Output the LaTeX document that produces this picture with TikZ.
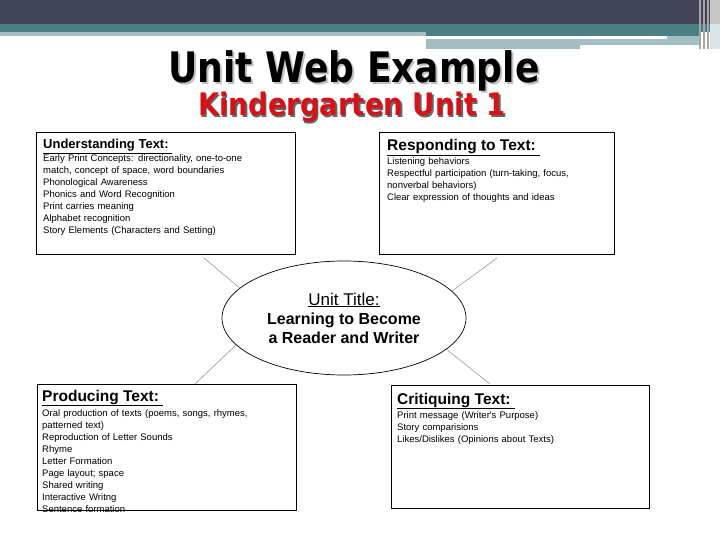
\documentclass[tikz,border=0pt]{standalone}
\usepackage{fontspec}
\setmainfont{Liberation Sans}
\newfontfamily\titlefont{DejaVu Sans}
\usepackage{tikz}
\usetikzlibrary{shapes}
\usetikzlibrary{positioning}

\definecolor{slatebar}{RGB}{65,68,88}
\definecolor{tealbar}{RGB}{74,128,132}
\definecolor{paleteal}{RGB}{162,190,194}
\definecolor{titlered}{RGB}{214,18,24}

\tikzset{
  topicbox/.style={draw=black,line width=1pt,anchor=north west,inner sep=0pt},
  headtext/.style={anchor=base west,inner sep=0pt,font=\fontsize{15.5}{18}\selectfont\bfseries},
  bodytext/.style={anchor=base west,inner sep=0pt,text width=240pt,align=left,font=\fontsize{9.5}{12}\selectfont},
  spoke/.style={draw=gray!80,line width=0.6pt},
  bigtitle/.style={inner sep=0pt,anchor=base,xscale=0.86,font=\titlefont\fontsize{42}{48}\selectfont\bfseries}
}

\begin{document}
\begin{tikzpicture}[x=1pt,y=-1pt]
        \useasboundingbox[fill=white] (0,0) rectangle (720,540);
        % the bars on top
        \fill[slatebar] (0,0) rectangle (720,24);
        \fill[tealbar] (0,24) rectangle (720,32);
        \fill[tealbar] (426,32) rectangle (700,36);
        \fill[paleteal] (0,32) rectangle (426,36);
        \fill[paleteal] (667,36) rectangle (700,39);
        \fill[paleteal] (426,39) rectangle (700,45);
        \fill[paleteal] (426,45) rectangle (580,49);
        \fill[gray!45] (710,0) rectangle (720,24);
        \fill[paleteal!40] (710,24) rectangle (720,49);
        \foreach \s in {700,704,708}
          \draw[gray!70,line width=1.2pt] (\s,0) -- (\s,49);

        %% titles, with a shadow
        \node[bigtitle,text=gray!50] at (356,85) {Unit Web Example};
        \node[bigtitle] (title) at (354,83) {Unit Web Example};
        \node[bigtitle,xscale=1.03,font=\titlefont\fontsize{31}{36}\selectfont\bfseries,text=black!60] at (353.5,117.5) {Kindergarten Unit 1};
        \node[bigtitle,xscale=1.03,font=\titlefont\fontsize{31}{36}\selectfont\bfseries,text=titlered] (subtitle) at (352,116) {Kindergarten Unit 1};

        %% the four boxes
        \node[topicbox,minimum width=259pt,minimum height=122pt] (underst) at (36,132) {};
        \node[topicbox,minimum width=235pt,minimum height=122pt] (respond) at (379,132) {};
        \node[topicbox,minimum width=259pt,minimum height=126pt] (produce) at (37,384) {};
        \node[topicbox,minimum width=258pt,minimum height=123pt] (critique) at (391,385) {};

        % body texts sit on the baseline of their first line
        \node[headtext,font=\fontsize{13}{16}\selectfont\bfseries] (understhead) at (43,149) {\underline{Understanding Text:~}};
        \node[bodytext] (understbody) at (43,162) {Early Print Concepts: directionality, one-to-one\\
          match, concept of space, word boundaries\\ Phonological Awareness\\
          Phonics and Word Recognition\\ Print carries meaning\\
          Alphabet recognition\\ Story Elements (Characters and Setting)};

        \node[headtext] (respondhead) at (387,151) {\underline{Responding to Text:~}};
        \node[bodytext] (respondbody) at (387,165) {Listening behaviors\\
          Respectful participation (turn-taking, focus,\\
          nonverbal behaviors)\\ Clear expression of thoughts and ideas};

        \node[headtext] (producehead) at (42,401) {\underline{Producing Text:~}};
        \node[bodytext] (producebody) at (42,416) {Oral production of texts (poems, songs, rhymes,\\
          patterned text)\\ Reproduction of Letter Sounds\\ Rhyme\\ Letter Formation\\
          Page layout; space\\ Shared writing\\ Interactive Writng\\ Sentence formation};

        \node[headtext] (critiquehead) at (397,404) {\underline{Critiquing Text:~}};
        \node[bodytext] (critiquebody) at (397,418) {Print message (Writer\textquotesingle s Purpose)\\
          Story comparisions\\ Likes/Dislikes (Opinions about Texts)};

        %% the middle
        \node[ellipse,draw=black,line width=0.7pt,inner sep=0pt,minimum width=244pt,minimum height=114pt,
              align=center,font=\fontsize{16}{19}\selectfont\bfseries] (unit) at (344,318)
              {{\mdseries\fontsize{17}{19}\selectfont\underline{Unit Title:}}\\ Learning to Become\\ a Reader and Writer};

        \coordinate (tl) at (204,258);
        \coordinate (tr) at (497,258);
        \coordinate (bl) at (195,384);
        \coordinate (br) at (490,384);
        \draw[spoke] (tl) -- (unit.164);
        \draw[spoke] (tr) -- (unit.14);
        \draw[spoke] (bl) -- (unit.194);
        \draw[spoke] (br) -- (unit.343);
      \end{tikzpicture}
\end{document}
